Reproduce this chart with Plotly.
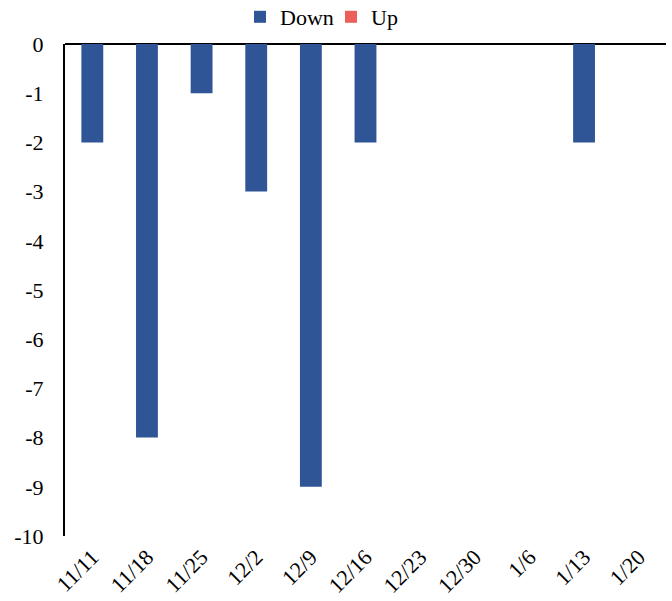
import plotly.graph_objects as go

weeks = ["11/11", "11/18", "11/25", "12/2", "12/9", "12/16",
         "12/23", "12/30", "1/6", "1/13", "1/20"]
down = [-2, -8, -1, -3, -9, -2, 0, 0, 0, -2, 0]
up = [0, 0, 0, 0, 0, 0, 0, 0, 0, 0, 0]
y_tick_vals = [0, -1, -2, -3, -4, -5, -6, -7, -8, -9, -10]
y_tick_text = ["0", "-1", "-2", "-3", "-4", "-5", "-6", "-7", "-8", "-9", "-10"]

font_family = "Liberation Serif, Times New Roman, serif"

fig = go.Figure()
fig.add_trace(go.Bar(x=weeks, y=down, name="Down", marker_color="#2F5597",
                     width=0.4, marker_line_width=0, legend="legend"))
fig.add_trace(go.Bar(x=weeks, y=up, name="Up", marker_color="#EB5F5A",
                     width=0.4, marker_line_width=0, legend="legend2"))

# one legend per series so each entry can sit where it belongs
legend_common = dict(orientation="h", xref="container", yref="paper",
                     yanchor="middle", y=1 + (44 - 17) / 492, xanchor="left",
                     font=dict(size=22), itemwidth=30, bgcolor="rgba(0,0,0,0)")

fig.update_layout(
    width=672, height=601,
    barmode="relative",
    showlegend=True,
    plot_bgcolor="white", paper_bgcolor="white",
    margin=dict(l=65, r=6, t=44, b=65, autoexpand=False),
    font=dict(family=font_family, size=22, color="black"),
    legend=dict(x=240 / 672, **legend_common),
    legend2=dict(x=331 / 672, **legend_common),
    xaxis=dict(type="category", showgrid=False, showline=False, ticks="",
               tickangle=-45, tickfont=dict(size=22), ticklabelstandoff=3),
    yaxis=dict(range=[-10, 0], tickvals=y_tick_vals, ticktext=y_tick_text,
               showgrid=False, showline=True, linecolor="black", linewidth=2,
               ticks="", zeroline=True, zerolinecolor="black", zerolinewidth=2,
               tickfont=dict(size=22), ticklabelstandoff=15),
)

fig.write_html("out.html")
